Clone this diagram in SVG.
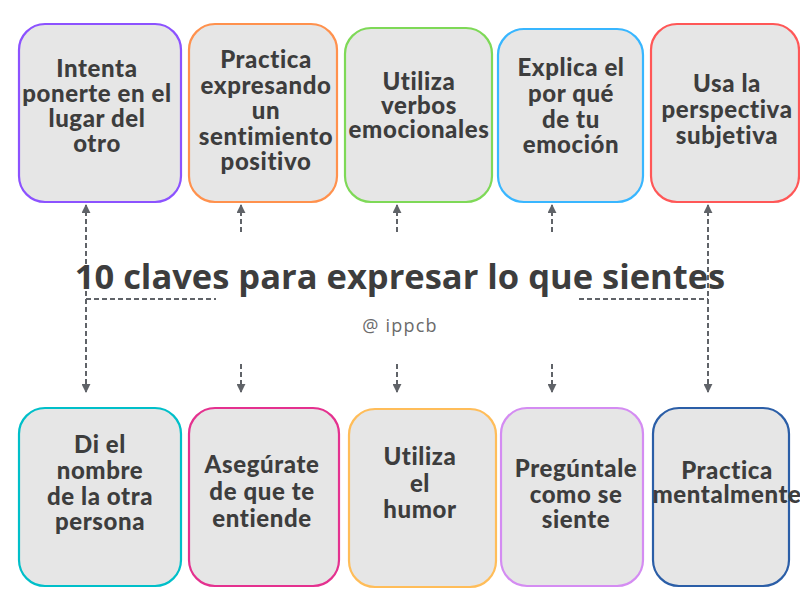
<svg xmlns="http://www.w3.org/2000/svg" width="800" height="600" viewBox="0 0 800 600">
<defs>
<style>
.box{fill:#e6e6e6;stroke-width:2.2}
.t{font-family:Lato,"Liberation Sans",sans-serif;font-weight:900;font-size:24px;letter-spacing:0.6px;fill:#3d3d3d;text-anchor:middle}
.title{font-family:"Open Sans","Liberation Sans",sans-serif;font-weight:700;font-size:34.5px;fill:#3d3d3d;text-anchor:middle}
.sub{font-family:"Open Sans","Liberation Sans",sans-serif;font-size:18px;fill:#6b6b6b;text-anchor:middle;letter-spacing:1.2px}
.c{fill:none;stroke:#606368;stroke-width:2;stroke-dasharray:5 3}
</style>
<marker id="ah" viewBox="0 0 10 10" refX="9" refY="5" markerWidth="4.5" markerHeight="4.5" orient="auto-start-reverse" markerUnits="strokeWidth">
<path d="M0,0 L10,5 L0,10 z" fill="#606368"/>
</marker>
</defs>
<rect width="800" height="600" fill="#fff"/>

<g id="connectors">
<path class="c" d="M86,392 V205" marker-end="url(#ah)" marker-start="url(#ah)"/>
<path class="c" d="M86,299 H216"/>
<path class="c" d="M708,392 V205" marker-end="url(#ah)" marker-start="url(#ah)"/>
<path class="c" d="M579,299 H708"/>
<path class="c" d="M241,232 V205" marker-end="url(#ah)"/>
<path class="c" d="M241,364 V392" marker-end="url(#ah)"/>
<path class="c" d="M397,232 V205" marker-end="url(#ah)"/>
<path class="c" d="M397,364 V392" marker-end="url(#ah)"/>
<path class="c" d="M552,232 V205" marker-end="url(#ah)"/>
<path class="c" d="M552,364 V392" marker-end="url(#ah)"/>
</g>

<g id="title">
<text class="title" x="400" y="289">10 claves para expresar lo que sientes</text>
<text class="sub" x="400" y="332">@ ippcb</text>
</g>

<g id="n1">
<rect class="box" x="19" y="24" width="162" height="178" rx="26" stroke="#8c52ff"/>
<text class="t" x="97" y="77">Intenta</text>
<text class="t" x="97" y="102">ponerte en el</text>
<text class="t" x="97" y="127">lugar del</text>
<text class="t" x="97" y="152">otro</text>
</g>
<g id="n2">
<rect class="box" x="189" y="24" width="148" height="178" rx="26" stroke="#ff914d"/>
<text class="t" x="266" y="68">Practica</text>
<text class="t" x="266" y="93.5">expresando</text>
<text class="t" x="266" y="119">un</text>
<text class="t" x="266" y="144.5">sentimiento</text>
<text class="t" x="266" y="170">positivo</text>
</g>
<g id="n3">
<rect class="box" x="345" y="28" width="147" height="174" rx="26" stroke="#7ed957"/>
<text class="t" x="419" y="90">Utiliza</text>
<text class="t" x="419" y="114">verbos</text>
<text class="t" x="419" y="138">emocionales</text>
</g>
<g id="n4">
<rect class="box" x="498" y="29" width="145" height="173" rx="26" stroke="#38b6ff"/>
<text class="t" x="571" y="76">Explica el</text>
<text class="t" x="571" y="102">por qué</text>
<text class="t" x="571" y="128">de tu</text>
<text class="t" x="571" y="153">emoción</text>
</g>
<g id="n5">
<rect class="box" x="651" y="24" width="148" height="178" rx="26" stroke="#ff5757"/>
<text class="t" x="727" y="92">Usa la</text>
<text class="t" x="727" y="118">perspectiva</text>
<text class="t" x="727" y="144">subjetiva</text>
</g>

<g id="n6">
<rect class="box" x="19" y="408" width="162" height="178" rx="26" stroke="#00bfc9"/>
<text class="t" x="100" y="453">Di el</text>
<text class="t" x="100" y="479">nombre</text>
<text class="t" x="100" y="505">de la otra</text>
<text class="t" x="100" y="530">persona</text>
</g>
<g id="n7">
<rect class="box" x="189" y="408" width="150" height="178" rx="26" stroke="#e4318f"/>
<text class="t" x="262" y="473">Asegúrate</text>
<text class="t" x="262" y="500">de que te</text>
<text class="t" x="262" y="527">entiende</text>
</g>
<g id="n8">
<rect class="box" x="349" y="409" width="147" height="178" rx="26" stroke="#ffbd59"/>
<text class="t" x="420" y="465">Utiliza</text>
<text class="t" x="420" y="492">el</text>
<text class="t" x="420" y="518">humor</text>
</g>
<g id="n9">
<rect class="box" x="501" y="408" width="142" height="178" rx="26" stroke="#d48cf2"/>
<text class="t" x="576" y="477">Pregúntale</text>
<text class="t" x="576" y="503">como se</text>
<text class="t" x="576" y="528">siente</text>
</g>
<g id="n10">
<rect class="box" x="653" y="408" width="136" height="178" rx="26" stroke="#2b5ea7"/>
<text class="t" x="727" y="479">Practica</text>
<text class="t" x="727" y="503">mentalmente</text>
</g>
</svg>
